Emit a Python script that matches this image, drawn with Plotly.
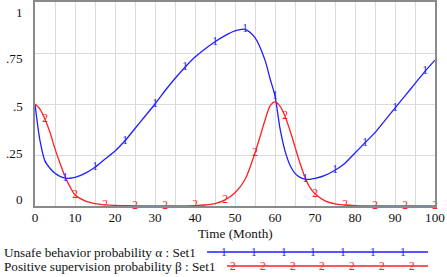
import plotly.graph_objects as go

# ---------------- data ----------------
time = [0, 1.25, 2.5, 3.75, 5, 6.25, 7.5, 8.75, 10, 12.5, 15, 17.5, 20, 22.5, 25, 27.5,
        30, 32.5, 35, 37.5, 40, 42.5, 45, 47.5, 50, 52.5, 55, 57.5, 58.75, 60, 61.25,
        62.5, 63.75, 65, 66.25, 67.5, 68.75, 70, 72.5, 75, 77.5, 80, 82.5, 85, 87.5,
        90, 92.5, 95, 97.5, 100]

alpha = [0.50, 0.32, 0.22, 0.185, 0.16, 0.145, 0.137, 0.136, 0.14, 0.16, 0.19, 0.23, 0.27,
         0.32, 0.38, 0.44, 0.50, 0.565, 0.625, 0.68, 0.73, 0.77, 0.805, 0.835, 0.858, 0.866,
         0.825, 0.715, 0.625, 0.54, 0.38, 0.27, 0.20, 0.16, 0.14, 0.132, 0.131, 0.135, 0.15,
         0.175, 0.21, 0.26, 0.31, 0.36, 0.42, 0.48, 0.54, 0.60, 0.66, 0.715]

beta = [0.50, 0.475, 0.425, 0.36, 0.28, 0.21, 0.145, 0.095, 0.055, 0.025, 0.012, 0.006,
        0.003, 0.002, 0.001, 0.0005, 0.0004, 0.0005, 0.0008, 0.001, 0.002, 0.005, 0.012,
        0.03, 0.065, 0.13, 0.26, 0.42, 0.49, 0.51, 0.49, 0.44, 0.37, 0.29, 0.21, 0.14,
        0.09, 0.06, 0.025, 0.01, 0.005, 0.002, 0.001, 0.0005, 0.0003, 0.0002, 0.0001,
        0.0001, 0.0, 0.0]

alpha_marks = [7.5, 15, 22.5, 30, 37.5, 45, 52.5, 60, 67.5, 75, 82.5, 90, 97.5]
beta_marks = [2.5, 10, 17.5, 25, 32.5, 40, 47.5, 55, 62.5, 70, 77.5, 85, 92.5, 100]

y_tickvals = [0, 0.25, 0.5, 0.75, 1]
y_ticktext = ["0", ".25", ".5", ".75", "1"]
x_tickvals = [0, 10, 20, 30, 40, 50, 60, 70, 80, 90, 100]

names = ["Unsafe behavior probability α : Set1", "Positive supervision probability β : Set1"]
BLUE = "#1f1fff"
RED = "#ff2020"
FONT = "Liberation Serif, Times New Roman, serif"
FS = 13.2

# ---------------- figure ----------------
W, H = 447, 277
ML, MR, MT, MB = 35, 12, 2, 71
PW, PH = W - ML - MR, H - MT - MB


def px_x(p):
    return (p - ML) / PW


def px_y(p):
    return (H - MB - p) / PH


fig = go.Figure()
for vals, col in [(alpha, BLUE), (beta, RED)]:
    fig.add_trace(go.Scatter(x=time, y=vals, mode="lines",
                             line=dict(color=col, width=1.3, shape="spline", smoothing=0.8),
                             hoverinfo="skip", showlegend=False))

lookup_a = dict(zip(time, alpha))
lookup_b = dict(zip(time, beta))
fig.add_trace(go.Scatter(x=alpha_marks, y=[lookup_a[t] for t in alpha_marks], mode="text",
                         text=["1"] * len(alpha_marks), textposition="middle center",
                         textfont=dict(family=FONT, size=11.5, color=BLUE),
                         cliponaxis=False, showlegend=False, hoverinfo="skip"))
fig.add_trace(go.Scatter(x=beta_marks, y=[lookup_b[t] for t in beta_marks], mode="text",
                         text=["2"] * len(beta_marks), textposition="middle center",
                         textfont=dict(family=FONT, size=11.5, color=RED),
                         cliponaxis=False, showlegend=False, hoverinfo="skip"))

fig.update_layout(
    width=W, height=H,
    margin=dict(l=ML, r=MR, t=MT, b=MB, pad=0, autoexpand=False),
    paper_bgcolor="white", plot_bgcolor="white",
    font=dict(family=FONT, size=FS, color="#111"),
    xaxis=dict(range=[0, 100], tickvals=x_tickvals, showgrid=True, gridcolor="#dadada",
               gridwidth=1, minor=dict(dtick=5, showgrid=True, gridcolor="#dadada", gridwidth=1),
               showline=True, linecolor="#8a8a8a", linewidth=2, mirror=True, automargin=False,
               zeroline=False, ticks="", ticklabelstandoff=-2,
               tickfont=dict(family=FONT, size=FS, color="#111")),
    yaxis=dict(range=[0, 1], tickvals=y_tickvals, showticklabels=False, showgrid=True,
               gridcolor="#dadada", gridwidth=1, showline=True, linecolor="#8a8a8a",
               linewidth=2, mirror=True, zeroline=False, ticks="",
               automargin=False),
)

# y tick labels (Vensim draws them pulled inward at the ends)
label_shift = {0: 7, 0.25: 2, 0.5: -2, 0.75: -5, 1: -10}
for v, t in zip(y_tickvals, y_ticktext):
    fig.add_annotation(text=t, xref="paper", yref="y", x=px_x(25), y=v, yshift=label_shift[v],
                       xanchor="right", yanchor="middle", showarrow=False,
                       font=dict(family=FONT, size=FS, color="#111"))

# x-axis title
fig.add_annotation(text="Time (Month)", xref="paper", yref="paper", x=0.5, y=px_y(233),
                   xanchor="center", yanchor="middle", showarrow=False,
                   font=dict(family=FONT, size=FS, color="#111"))

# custom legend
leg_rows = [(252, BLUE, "1", 207, 224), (266, RED, "2", 227, 233)]
for (ypix, col, lab, x0, m0), name in zip(leg_rows, names):
    fig.add_annotation(text=name, xref="paper", yref="paper", x=px_x(2), y=px_y(ypix),
                       xanchor="left", yanchor="middle", showarrow=False,
                       font=dict(family=FONT, size=FS, color="#111"))
    fig.add_shape(type="line", xref="paper", yref="paper", x0=px_x(x0), x1=px_x(428),
                  y0=px_y(ypix), y1=px_y(ypix), line=dict(color=col, width=1.3))
    for k in range(7):
        fig.add_annotation(text=lab, xref="paper", yref="paper", x=px_x(m0 + 29.8 * k),
                           y=px_y(ypix), xanchor="center", yanchor="middle", showarrow=False,
                           font=dict(family=FONT, size=11.5, color=col))

fig.write_html("out.html", config={"displayModeBar": False},
               post_script="document.body.style.margin='0';")
